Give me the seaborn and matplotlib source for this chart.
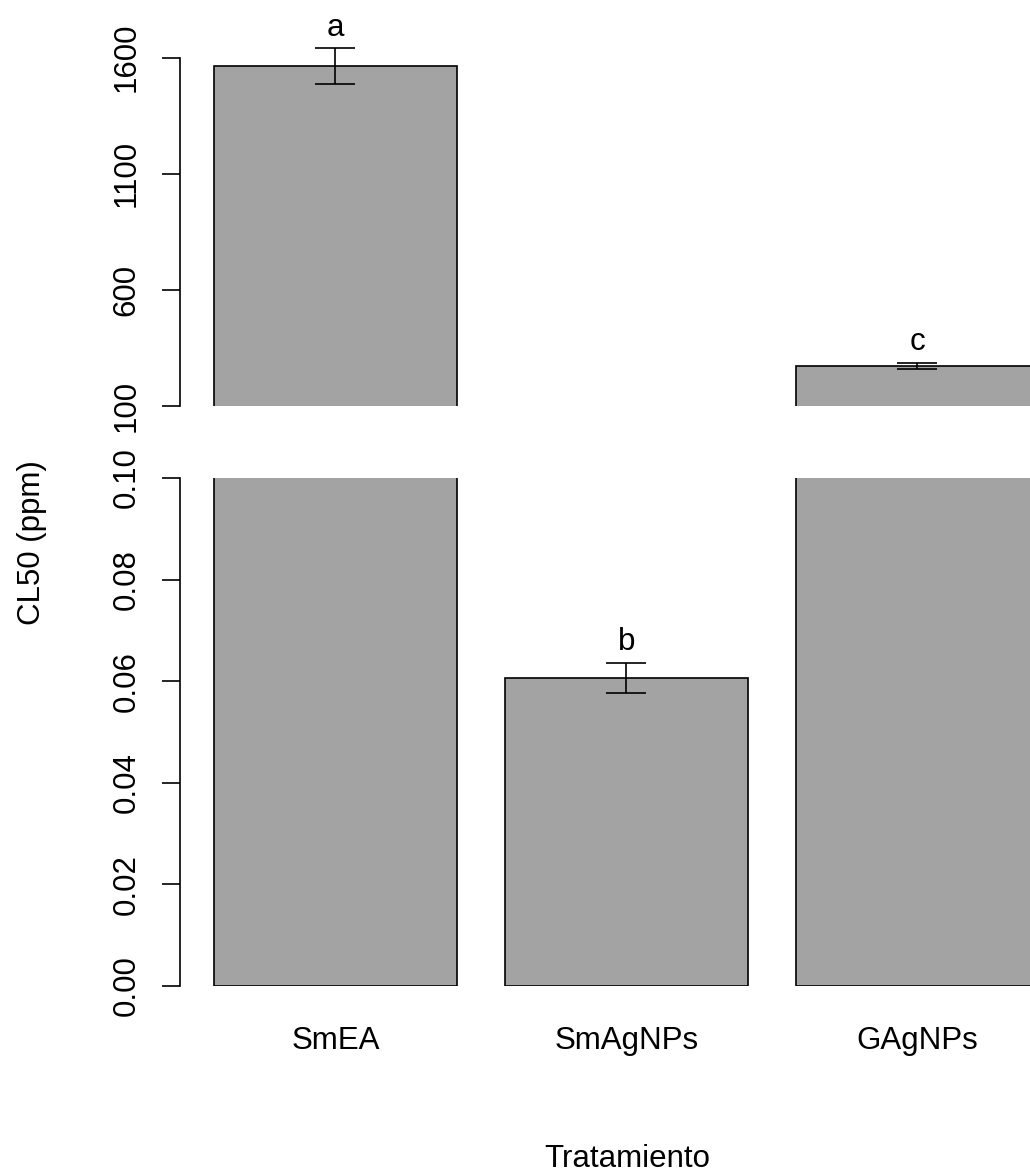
import matplotlib
matplotlib.use("Agg")
import matplotlib.pyplot as plt
import seaborn as sns
import pandas as pd

# Median lethal concentration per treatment, with standard errors and group letters
categories = ["SmEA", "SmAgNPs", "GAgNPs"]
cl50 = [1564.0, 0.0606, 272.0]
se = [77.0, 0.0030, 14.0]
letters = ["a", "b", "c"]

upper_ticks = [100, 600, 1100, 1600]
lower_ticks = [0.00, 0.02, 0.04, 0.06, 0.08, 0.10]
lower_tick_labels = ["0.00", "0.02", "0.04", "0.06", "0.08", "0.10"]

df = pd.DataFrame({"Tratamiento": categories, "CL50": cl50})

sns.set_theme(style="white")
plt.rcParams["font.family"] = ["Liberation Sans", "DejaVu Sans"]
plt.rcParams["text.color"] = "black"
plt.rcParams["axes.labelcolor"] = "black"
plt.rcParams["xtick.color"] = "black"
plt.rcParams["ytick.color"] = "black"
FS = 22.5
LW = 1.2

W, H = 1030, 1173
fig = plt.figure(figsize=(W / 100, H / 100), dpi=100)

def px_axes(left, right, top, bottom):
    return fig.add_axes([left / W, 1 - bottom / H, (right - left) / W, (bottom - top) / H])

ax_hi = px_axes(180, 1030, 10, 406)
ax_lo = px_axes(180, 1030, 478, 986)

bar_color = "#a3a3a3"
xlim = (-0.534, 2.387)

for ax, ylim, ticks, labels, bounds in [
    (ax_hi, (100, 100 + 396 * 500 / 116.1), upper_ticks, [str(t) for t in upper_ticks], (100, 1600)),
    (ax_lo, (0, 0.10), lower_ticks, lower_tick_labels, (0, 0.10)),
]:
    sns.barplot(data=df, x="Tratamiento", y="CL50", color=bar_color, saturation=1,
                edgecolor="black", linewidth=LW, width=0.835, errorbar=None, ax=ax)
    ax.errorbar(range(len(categories)), cl50, yerr=se, fmt="none", ecolor="black",
                elinewidth=LW, capsize=14.4, capthick=LW)
    ax.set_xlim(*xlim)
    ax.set_ylim(*ylim)
    for s in ["top", "right", "bottom"]:
        ax.spines[s].set_visible(False)
    ax.spines["left"].set_color("black")
    ax.spines["left"].set_linewidth(LW)
    ax.spines["left"].set_bounds(*bounds)
    ax.set_yticks(ticks)
    ax.set_yticklabels(labels, rotation=90, va="center", ha="right", fontsize=FS, color="black")
    ax.tick_params(axis="y", length=13, width=LW, color="black", pad=14.7, left=True)
    ax.set_xlabel("")
    ax.set_ylabel("")
    ax.set_facecolor("none")
    # group letters above the error bars that fall within this panel
    for i, (v, e, lab) in enumerate(zip(cl50, se, letters)):
        if ylim[0] < v < ylim[1]:
            ax.annotate(lab, xy=(i, v + e), xytext=(0, 9), textcoords="offset points",
                        ha="center", va="baseline", fontsize=FS, color="black",
                        annotation_clip=False)

ax_hi.set_xticks([])
ax_lo.set_xticks(range(len(categories)))
ax_lo.set_xticklabels(categories, fontsize=FS, color="black")
ax_lo.tick_params(axis="x", length=0, pad=29)

fig.text(627 / W, 1 - 1167 / H, "Tratamiento", ha="center", va="baseline", fontsize=FS, color="black")
fig.text(47 / W, 1 - 543 / H, "CL50 (ppm)", ha="right", va="center", rotation=90, fontsize=FS, color="black")

fig.savefig("out.png", dpi=100, facecolor="white")
